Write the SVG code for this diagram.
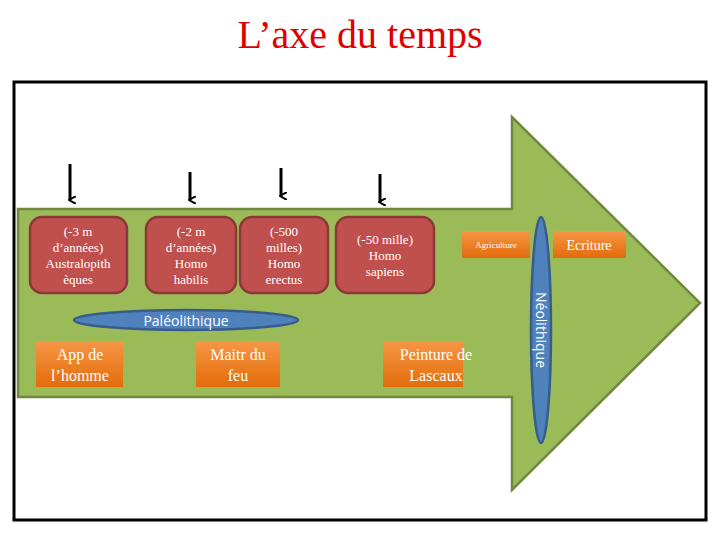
<svg xmlns="http://www.w3.org/2000/svg" width="720" height="540" viewBox="0 0 720 540">
<style>
.r{fill:#c0504d;stroke:#8c3836;stroke-width:2.5}
.o{fill:url(#og)}
.t{font-family:"Liberation Serif",serif;text-anchor:middle}
.tr{fill:#fff;font-size:13px}
.to{fill:#fff;font-size:16px}
.e{fill:#4f81bd;stroke:#385d8a;stroke-width:2.5}
.et{font-family:"Open Sans","DejaVu Sans",sans-serif;fill:#fff;font-size:14px;text-anchor:middle}
</style>
<defs>
<linearGradient id="og" x1="0" y1="0" x2="0" y2="1"><stop offset="0" stop-color="#f79646"/><stop offset="1" stop-color="#e36c0a"/></linearGradient>
<marker id="ah" markerWidth="8" markerHeight="8" refX="4" refY="6" orient="auto" markerUnits="userSpaceOnUse" viewBox="0 0 8 8"><path d="M0,0 L4,7 L8,0" fill="none" stroke="#000" stroke-width="2"/></marker>
</defs>
<rect width="720" height="540" fill="#fff"/>
<text x="360" y="48" font-family="Liberation Serif,serif" font-size="40" fill="#e00000" text-anchor="middle">L’axe du temps</text>
<rect x="14" y="82" width="692" height="438" fill="#fff" stroke="#000" stroke-width="3"/>
<path id="arrow" d="M18,209 L512,209 L512,117 L700,303 L512,490 L512,397 L18,397 Z" fill="#9bbb59" stroke="#71893f" stroke-width="2.5"/>
<g id="connectors" stroke="#000" stroke-width="3">
<line x1="70" y1="164" x2="70" y2="200" marker-end="url(#ah)"/>
<line x1="190" y1="172" x2="190" y2="200" marker-end="url(#ah)"/>
<line x1="281" y1="168" x2="281" y2="196" marker-end="url(#ah)"/>
<line x1="380" y1="174" x2="380" y2="202" marker-end="url(#ah)"/>
</g>
<g id="n1"><rect class="r" x="30" y="217" width="97" height="76" rx="12"/><text class="t tr" x="78" y="236">(-3 m</text><text class="t tr" x="78" y="252">d’années)</text><text class="t tr" x="78" y="268">Australopith</text><text class="t tr" x="78" y="284">èques</text></g>
<g id="n2"><rect class="r" x="146" y="217" width="90" height="76" rx="12"/><text class="t tr" x="191" y="236">(-2 m</text><text class="t tr" x="191" y="252">d’années)</text><text class="t tr" x="191" y="268">Homo</text><text class="t tr" x="191" y="284">habilis</text></g>
<g id="n3"><rect class="r" x="240" y="217" width="88" height="76" rx="12"/><text class="t tr" x="284" y="236">(-500</text><text class="t tr" x="284" y="252">milles)</text><text class="t tr" x="284" y="268">Homo</text><text class="t tr" x="284" y="284">erectus</text></g>
<g id="n4"><rect class="r" x="336" y="217" width="98" height="76" rx="12"/><text class="t tr" x="385" y="244">(-50 mille)</text><text class="t tr" x="385" y="260">Homo</text><text class="t tr" x="385" y="276">sapiens</text></g>
<g id="n5"><ellipse class="e" cx="186" cy="320" rx="112" ry="10"/><text class="et" x="186" y="326">Paléolithique</text></g>
<g id="n6"><rect class="o" x="36" y="341" width="87" height="46"/><text class="t to" x="80" y="360">App de</text><text class="t to" x="80" y="381">l’homme</text></g>
<g id="n7"><rect class="o" x="196" y="341" width="84" height="46"/><text class="t to" x="238" y="360">Maitr du</text><text class="t to" x="238" y="381">feu</text></g>
<g id="n8"><rect class="o" x="383" y="341" width="80" height="46"/><text class="t to" x="436" y="360">Peinture de</text><text class="t to" x="436" y="381">Lascaux</text></g>
<g id="n9"><rect class="o" x="462" y="231" width="68" height="27"/><text class="t" x="496" y="248" font-size="9" fill="#fff">Agriculture</text></g>
<g id="n10"><rect class="o" x="553" y="231" width="73" height="27"/><text class="t" x="589" y="250" font-size="14" fill="#fff">Ecriture</text></g>
<g id="n11"><ellipse class="e" cx="541" cy="330" rx="10" ry="113"/><text class="et" transform="translate(536,330) rotate(90)" x="0" y="0">Néolithique</text></g>
</svg>
